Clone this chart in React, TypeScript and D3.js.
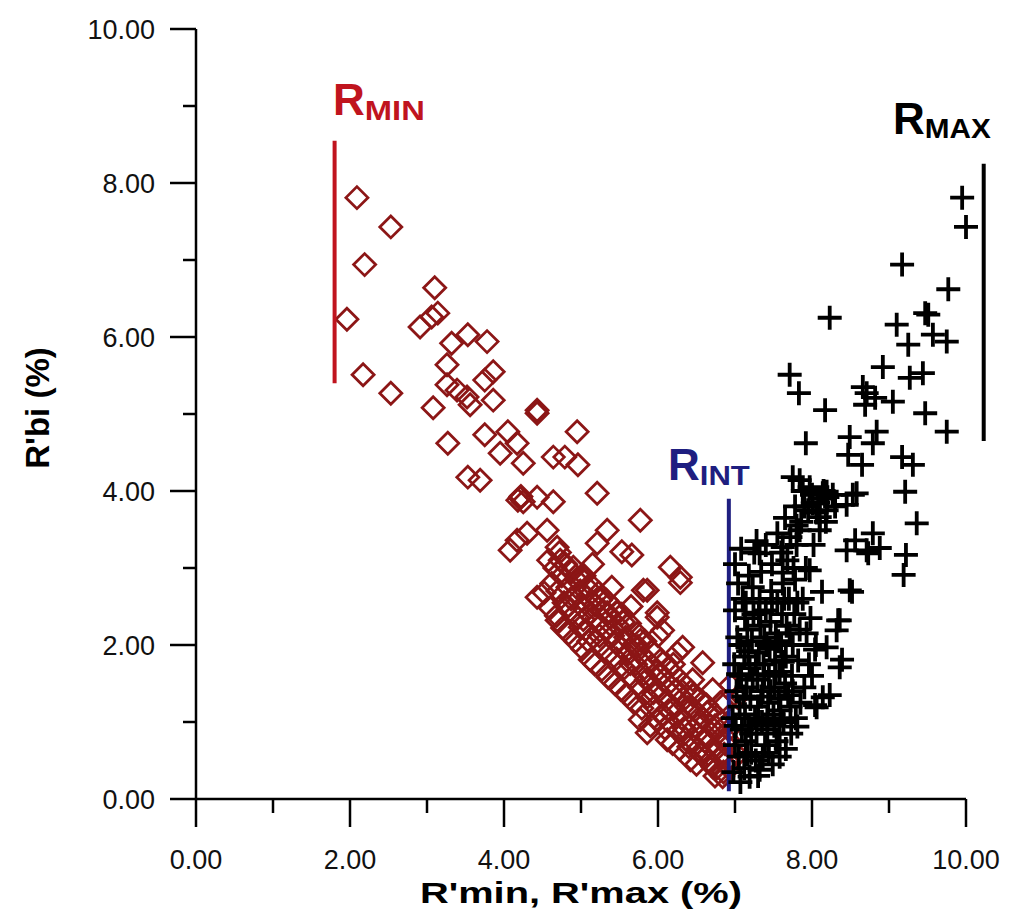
import React from "react";
import * as d3 from "d3";

// R'min series (diamonds): [R'min %, R'bi %]
const minSparse: [number, number][] = [
  [2.09, 7.81], [2.53, 7.43], [2.19, 6.94], [1.96, 6.23], [2.17, 5.51], [2.53, 5.27],
  [3.10, 6.64], [3.06, 6.26], [2.91, 6.13], [3.14, 6.31], [3.32, 5.92], [3.53, 6.03],
  [3.78, 5.94], [3.26, 5.64], [3.86, 5.55], [3.75, 5.44], [3.26, 5.38], [3.39, 5.31],
  [3.52, 5.22], [3.86, 5.18], [3.08, 5.08], [3.56, 5.12], [4.43, 5.05], [4.43, 5.01],
  [4.95, 4.77], [3.27, 4.62], [3.75, 4.73], [4.05, 4.77], [4.17, 4.62], [3.95, 4.49],
  [4.25, 4.36], [4.64, 4.44], [4.79, 4.44], [4.96, 4.34], [3.53, 4.18], [3.69, 4.14],
  [5.21, 3.97], [4.21, 3.91], [4.18, 3.88], [4.22, 3.93], [4.25, 3.86], [4.43, 3.92],
  [4.64, 3.86], [5.77, 3.62], [5.34, 3.49], [5.21, 3.32], [5.53, 3.21], [5.66, 3.17],
  [4.17, 3.36], [4.08, 3.23], [4.30, 3.45], [4.56, 3.49], [4.69, 3.27], [4.73, 3.10],
  [4.90, 3.01], [4.99, 2.88], [5.08, 2.75], [4.43, 2.62], [5.81, 2.71], [6.16, 3.01],
  [6.29, 2.88], [4.82, 2.49], [5.25, 2.58], [5.47, 2.42], [5.99, 2.42], [6.06, 2.19],
  [4.69, 2.32], [4.99, 2.23],
];

const minDense: [number, number][] = [
  [4.58, 3.10], [4.62, 2.80], [4.66, 3.00], [4.70, 2.70], [4.72, 3.20], [4.75, 2.90], [4.78, 2.55], [4.80, 3.05],
  [4.83, 2.75], [4.86, 2.45], [4.88, 2.95], [4.91, 2.62], [4.94, 2.85], [4.96, 2.35], [4.99, 2.70],
  [5.01, 2.50], [5.04, 2.90], [5.06, 2.20], [5.08, 2.62], [5.11, 2.40], [5.13, 2.78], [5.16, 2.10], [5.18, 2.52],
  [5.21, 2.30], [5.23, 2.68], [5.26, 2.00], [5.28, 2.45], [5.31, 2.20], [5.33, 2.58], [5.36, 1.90], [5.38, 2.35],
  [5.41, 2.12], [5.43, 2.48], [5.46, 1.82], [5.48, 2.25], [5.51, 1.98], [5.53, 2.40], [5.56, 1.70], [5.58, 2.10],
  [5.61, 1.88], [5.63, 2.28], [5.66, 1.58], [5.68, 2.00], [5.71, 1.75], [5.73, 2.15], [5.76, 1.45], [5.78, 1.88],
  [5.81, 1.62], [5.83, 2.05], [5.86, 1.32], [5.88, 1.78], [5.91, 1.50], [5.93, 1.92], [5.96, 1.20], [5.98, 1.65],
  [6.01, 1.40], [6.03, 1.80], [6.06, 1.10], [6.08, 1.55], [6.11, 1.28], [6.13, 1.70], [6.16, 0.98], [6.18, 1.45],
  [6.21, 1.18], [6.23, 1.60], [6.26, 0.88], [6.28, 1.35], [6.31, 1.05], [6.33, 1.50], [6.36, 0.78], [6.38, 1.25],
  [6.41, 0.95], [6.43, 1.40], [6.46, 0.68], [6.48, 1.15], [6.51, 0.85], [6.53, 1.30], [6.56, 0.58], [6.58, 1.05],
  [6.61, 0.75], [6.63, 1.22], [6.66, 0.48], [6.68, 0.95], [6.71, 0.65], [6.73, 1.10], [6.76, 0.40], [6.78, 0.85],
  [6.81, 0.55], [6.83, 1.00], [6.85, 0.35], [6.87, 0.72], [6.90, 0.50], [6.92, 0.90],
  [7.03, 1.32], [7.03, 0.57],
  [5.86, 2.71], [6.29, 2.81], [5.99, 2.36], [5.77, 2.06], [6.25, 1.90], [6.58, 1.77], [6.45, 1.55], [6.71, 1.42],
  [6.81, 1.25], [6.64, 1.12], [6.38, 1.19], [5.86, 0.86], [6.12, 0.77], [6.55, 0.60], [6.71, 0.42], [6.84, 0.29],
  [5.12, 1.81], [5.77, 1.03], [6.42, 0.51], [6.32, 1.97],
  [4.52, 2.68], [4.60, 2.48], [4.68, 2.38], [4.76, 2.22], [4.84, 2.15], [4.93, 2.05], [5.02, 1.95], [5.10, 2.05],
  [5.18, 1.75], [5.27, 1.68], [5.35, 1.58], [5.44, 1.50], [5.52, 1.42], [5.60, 1.35], [5.69, 1.25], [5.79, 1.18],
  [5.90, 0.95], [6.00, 1.02], [6.09, 0.92], [6.19, 0.72], [6.28, 0.65], [6.40, 0.68], [6.50, 0.45], [6.62, 0.55],
  [6.74, 0.30], [4.87, 2.60], [5.03, 2.33], [5.14, 2.57], [5.24, 2.12], [5.34, 2.42], [5.45, 2.03], [5.55, 2.30],
  [5.64, 1.76], [5.74, 1.98], [5.85, 1.55], [5.94, 1.38], [6.04, 1.62], [6.14, 1.15], [6.24, 1.42], [6.34, 0.92],
  [6.44, 1.18], [6.54, 0.98], [6.64, 0.82], [6.74, 0.95], [6.86, 0.58], [6.90, 0.78], [6.93, 0.40], [6.88, 1.25],
  [6.94, 1.48], [5.65, 2.50], [5.40, 2.75], [5.15, 3.05], [6.00, 2.12], [6.20, 1.75], [6.45, 1.35],
];

// R'max series (crosses)
const maxSparse: [number, number][] = [
  [9.95, 7.81], [10.0, 7.43], [9.17, 6.94], [9.77, 6.62], [8.23, 6.25], [9.10, 6.16],
  [9.47, 6.31], [9.51, 6.29], [9.57, 6.03], [9.75, 5.94], [9.25, 5.90], [7.71, 5.51],
  [7.83, 5.27], [8.92, 5.61], [9.27, 5.47], [9.44, 5.53], [8.66, 5.35], [8.71, 5.27],
  [8.82, 5.21], [9.05, 5.16], [8.69, 5.12], [8.17, 5.05], [9.47, 5.01], [9.75, 4.77],
  [7.92, 4.62], [8.49, 4.70], [8.84, 4.77], [8.79, 4.62], [8.47, 4.47], [8.65, 4.34],
  [9.17, 4.44], [9.31, 4.34], [7.75, 4.18], [7.84, 4.14], [8.19, 3.99], [8.58, 3.97],
  [9.21, 3.99], [9.36, 3.58], [9.22, 3.17], [9.19, 2.91], [8.88, 3.26], [8.73, 3.19],
  [8.56, 3.36], [8.45, 3.82], [8.13, 2.69], [8.49, 2.71], [8.10, 3.66], [8.34, 2.32],
  [8.39, 1.81], [8.04, 1.22], [8.23, 1.35], [8.04, 1.94],
  [8.14, 3.97], [8.53, 3.95], [8.01, 3.84], [8.19, 3.75], [7.84, 3.49], [8.10, 3.49],
  [7.32, 3.19], [7.62, 3.27], [8.45, 3.23], [8.71, 3.23], [8.79, 3.45], [8.52, 2.69],
  [7.97, 2.97], [7.62, 2.94], [8.36, 2.32], [8.32, 2.19], [8.19, 1.97], [8.36, 1.71],
  [8.14, 1.32], [8.06, 1.19], [7.81, 0.94], [7.58, 0.55], [7.32, 0.38], [7.19, 0.29],
];

const maxDense: [number, number][] = [
  [6.98, 0.35], [7.00, 0.70], [6.97, 1.05], [7.02, 1.40], [6.99, 1.75], [7.03, 2.10], [7.00, 2.45], [7.05, 0.55],
  [7.06, 1.20], [7.08, 1.60], [7.07, 2.00], [7.09, 0.90], [7.10, 2.60], [7.04, 2.80],
  [7.12, 0.40], [7.14, 0.75], [7.13, 1.10], [7.15, 1.45], [7.12, 1.85], [7.16, 2.20], [7.14, 2.55], [7.18, 0.95],
  [7.20, 1.30], [7.19, 1.70], [7.22, 2.05], [7.21, 0.60], [7.24, 2.40], [7.23, 1.55], [7.25, 3.20], [7.18, 2.90],
  [7.27, 0.50], [7.28, 0.85], [7.30, 1.20], [7.29, 1.55], [7.31, 1.90], [7.33, 2.25], [7.32, 2.60], [7.35, 1.00],
  [7.36, 1.40], [7.37, 1.75], [7.38, 2.10], [7.34, 2.95], [7.39, 0.70], [7.40, 2.45],
  [7.42, 0.90], [7.43, 1.25], [7.44, 1.60], [7.45, 1.95], [7.46, 2.30], [7.47, 2.70], [7.48, 3.05], [7.50, 1.10],
  [7.51, 1.45], [7.52, 1.80], [7.53, 2.15], [7.54, 0.75], [7.55, 2.55], [7.49, 0.45],
  [7.57, 1.30], [7.58, 1.65], [7.60, 2.00], [7.61, 2.40], [7.62, 2.80], [7.63, 1.00], [7.65, 1.50], [7.66, 1.85],
  [7.67, 2.25], [7.68, 3.10], [7.70, 2.60],
  [7.72, 1.20], [7.74, 1.60], [7.75, 2.00], [7.77, 2.40], [7.78, 2.85], [7.80, 3.30], [7.82, 1.80], [7.84, 2.20],
  [7.86, 3.60], [7.88, 2.60], [7.90, 1.45], [7.76, 3.00], [7.73, 0.85],
  [7.92, 3.00], [7.95, 3.75], [7.98, 2.35], [8.00, 1.60], [8.02, 3.30], [8.05, 2.00], [8.08, 3.85],
  [7.60, 3.20], [7.72, 3.40], [7.80, 3.55], [7.90, 3.80], [8.00, 3.95], [8.10, 3.90], [8.20, 3.92], [8.15, 4.00],
  [7.01, 0.95], [7.04, 1.62], [7.07, 0.22], [7.11, 1.33], [7.13, 2.35], [7.16, 0.58], [7.17, 1.92], [7.21, 0.85],
  [7.23, 2.75], [7.26, 1.05], [7.27, 1.75], [7.30, 0.30], [7.31, 2.42], [7.34, 1.33], [7.36, 0.55], [7.38, 1.62],
  [7.41, 2.00], [7.42, 1.05], [7.44, 0.60], [7.46, 1.40], [7.48, 2.55], [7.51, 0.95], [7.53, 1.65], [7.56, 2.05],
  [7.58, 0.85], [7.59, 1.15], [7.62, 1.78], [7.64, 2.60], [7.66, 0.65], [7.69, 1.35], [7.71, 2.15], [7.75, 1.40],
  [7.79, 1.05], [7.81, 2.55], [7.85, 1.25], [7.93, 2.15], [7.96, 1.75], [7.00, 3.05], [7.08, 3.25], [7.28, 3.35],
  [7.40, 3.30], [7.55, 3.45], [7.65, 3.65], [7.78, 3.80], [7.88, 4.00], [7.97, 4.05], [8.06, 3.72], [8.18, 3.60],
  [8.27, 3.95], [8.30, 3.80],
];

const xTicks = [0, 2, 4, 6, 8, 10];
const yTicks = [0, 2, 4, 6, 8, 10];
const minorTicks = [1, 3, 5, 7, 9];

// Range marker lines: [x, y0, y1]
const rMinLine: [number, number, number] = [1.8, 5.4, 8.55];
const rMaxLine: [number, number, number] = [10.23, 4.65, 8.25];
const rIntLine: [number, number, number] = [6.92, 0.1, 3.9];

const FONT = "'Liberation Sans', Arial, sans-serif";
const DIAMOND = "#8c1616";
const RED = "#c0141e";
const BLUE = "#1e1e80";

export default function App() {
  const x = d3.scaleLinear().domain([0, 10]).range([196, 966]);
  const y = d3.scaleLinear().domain([0, 10]).range([799, 29]);
  const fmt = d3.format(".2f");
  const diamonds = [...minSparse, ...minDense];
  const crosses = [...maxSparse, ...maxDense];
  const dS = 11;
  const cS = 12;

  return (
    <svg width={1010} height={918} style={{ position: "absolute", left: 0, top: 0, background: "#fff" }}>
      <rect width={1010} height={918} fill="#fff" />
      {/* diamonds */}
      <g fill="none" stroke={DIAMOND} strokeWidth={2.8}>
        {diamonds.map((d, i) => {
          const cx = x(d[0]), cy = y(d[1]);
          return <path key={i} d={`M${cx},${cy - dS}L${cx + dS},${cy}L${cx},${cy + dS}L${cx - dS},${cy}Z`} />;
        })}
      </g>
      {/* range lines */}
      <line x1={x(rMinLine[0])} x2={x(rMinLine[0])} y1={y(rMinLine[1])} y2={y(rMinLine[2])} stroke={RED} strokeWidth={4} />
      <line x1={x(rIntLine[0])} x2={x(rIntLine[0])} y1={y(rIntLine[1])} y2={y(rIntLine[2])} stroke={BLUE} strokeWidth={4} />
      {/* crosses */}
      <g stroke="#000" strokeWidth={3.8}>
        {crosses.map((d, i) => {
          const cx = x(d[0]), cy = y(d[1]);
          return <path key={i} d={`M${cx - cS},${cy}H${cx + cS}M${cx},${cy - cS}V${cy + cS}`} />;
        })}
      </g>
      <line x1={x(rMaxLine[0])} x2={x(rMaxLine[0])} y1={y(rMaxLine[1])} y2={y(rMaxLine[2])} stroke="#000" strokeWidth={4} />

      {/* axes */}
      <g stroke="#000" strokeWidth={2.5}>
        <line x1={x(0)} x2={x(0)} y1={y(10)} y2={y(0) + 1} />
        <line x1={x(0)} x2={x(10)} y1={y(0)} y2={y(0)} />
        {yTicks.map((t) => <line key={"ym" + t} x1={x(0) - 26} x2={x(0)} y1={y(t)} y2={y(t)} />)}
        {minorTicks.map((t) => <line key={"yn" + t} x1={x(0) - 13} x2={x(0)} y1={y(t)} y2={y(t)} />)}
        {xTicks.map((t) => <line key={"xm" + t} x1={x(t)} x2={x(t)} y1={y(0)} y2={y(0) + 28} />)}
        {minorTicks.map((t) => <line key={"xn" + t} x1={x(t)} x2={x(t)} y1={y(0)} y2={y(0) + 14} />)}
      </g>
      <g fontFamily={FONT} fontSize={27} fill="#111">
        {yTicks.map((t) => (
          <text key={"yl" + t} x={x(0) - 41} y={y(t)} dy="0.36em" textAnchor="end">{fmt(t)}</text>
        ))}
        {xTicks.map((t) => (
          <text key={"xl" + t} x={x(t)} y={869} textAnchor="middle">{fmt(t)}</text>
        ))}
      </g>
      <text x={581} y={903} textAnchor="middle" fontFamily={FONT} fontWeight="bold" fontSize={30}
        textLength={322} lengthAdjust="spacingAndGlyphs">R'min, R'max (%)</text>
      <text transform="translate(49,408) rotate(-90)" textAnchor="middle" fontFamily={FONT} fontWeight="bold" fontSize={33}>R'bi (%)</text>

      {/* annotations */}
      <text x={333} y={115} fontFamily={FONT} fontWeight="bold" fill={RED}>
        <tspan fontSize={44}>R</tspan><tspan fontSize={28} dy={5} textLength={60} lengthAdjust="spacingAndGlyphs">MIN</tspan>
      </text>
      <text x={893} y={134} fontFamily={FONT} fontWeight="bold" fill="#000">
        <tspan fontSize={44}>R</tspan><tspan fontSize={28} dy={4} textLength={66} lengthAdjust="spacingAndGlyphs">MAX</tspan>
      </text>
      <text x={668} y={480} fontFamily={FONT} fontWeight="bold" fill={BLUE}>
        <tspan fontSize={44}>R</tspan><tspan fontSize={28} dy={5} textLength={50} lengthAdjust="spacingAndGlyphs">INT</tspan>
      </text>
    </svg>
  );
}
